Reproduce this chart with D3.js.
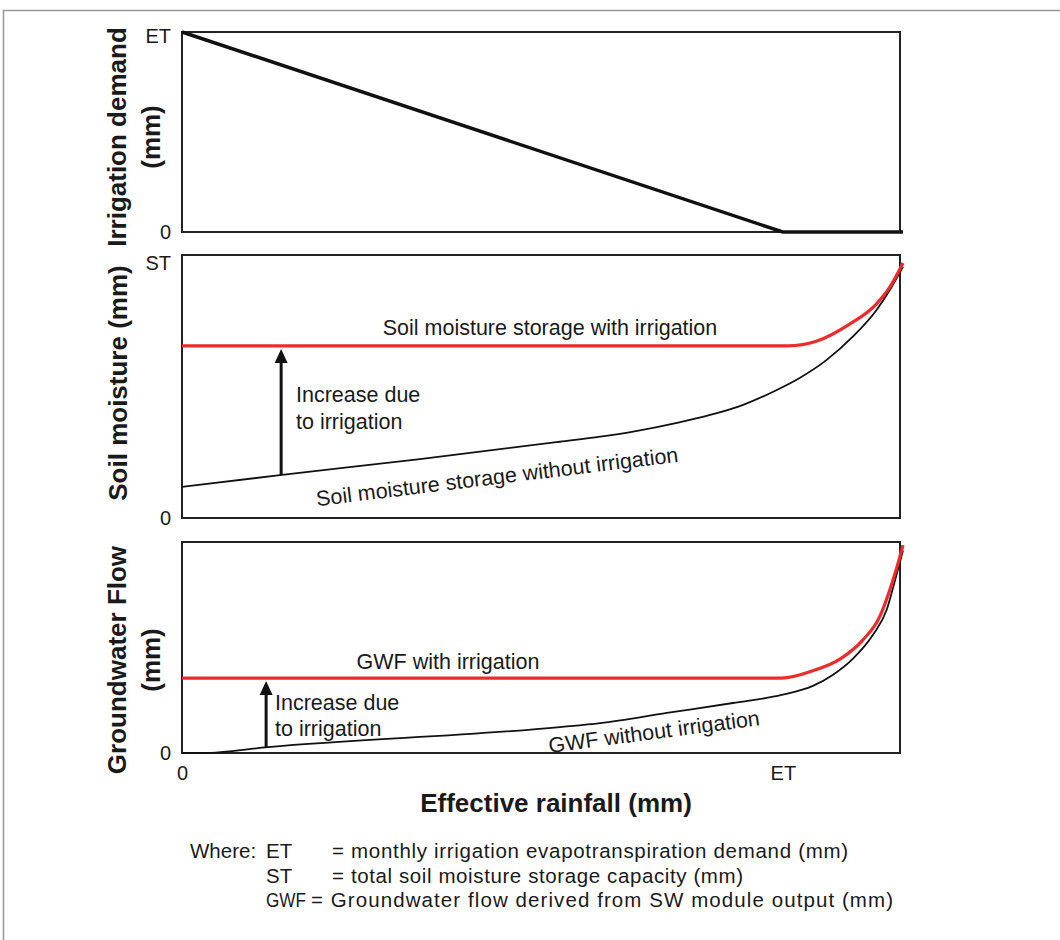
<!DOCTYPE html>
<html>
<head>
<meta charset="utf-8">
<script src="https://cdn.jsdelivr.net/npm/d3@7/dist/d3.min.js"></script>
<style>
  body { margin: 0; background: #fff; }
  text { font-family: Arial, "Liberation Sans", sans-serif; fill: #1a1a1a; }
</style>
</head>
<body>
<div id="chart-area"></div>
<script>
// effective rainfall as a fraction of ET (ET = 1)
var demandX = [0, 1, 1.2];
var demandY = [1, 0, 0];

// soil moisture as a fraction of ST
var smDryX = [0, 0.163, 0.396, 0.629, 0.696, 0.751, 0.824, 0.879, 0.933, 0.990, 1.028, 1.073, 1.116, 1.156, 1.178, 1.2];
var smDryY = [0.122, 0.168, 0.231, 0.299, 0.319, 0.339, 0.373, 0.404, 0.443, 0.502, 0.549, 0.620, 0.710, 0.816, 0.894, 0.985];
var smIrrX = [0, 1.008, 1.057, 1.111, 1.156, 1.178, 1.2];
var smIrrY = [0.675, 0.675, 0.694, 0.760, 0.840, 0.905, 1.0];

// groundwater flow (relative)
var gwfDryX = [0, 0.035, 0.143, 0.629, 0.696, 0.807, 0.917, 0.998, 1.050, 1.083, 1.116, 1.150, 1.173, 1.186, 1.2];
var gwfDryY = [0, 0, 0.028, 0.123, 0.142, 0.190, 0.237, 0.275, 0.318, 0.370, 0.445, 0.560, 0.680, 0.810, 0.960];
var gwfIrrX = [0, 0.998, 1.050, 1.095, 1.133, 1.161, 1.178, 1.190, 1.2];
var gwfIrrY = [0.355, 0.355, 0.390, 0.445, 0.535, 0.645, 0.773, 0.882, 0.985];

var xTickLabels = ["0", "ET"];
var demandTickLabels = ["0", "ET"];
var smTickLabels = ["0", "ST"];
var gwfTickLabels = ["0"];

var arrowAt = 0.165;      // where the "increase" arrows stand
var arrowAtGwf = 0.14;

var legendKeys = ["ET", "ST", "GWF"];
var legendTexts = [
  "= monthly irrigation evapotranspiration demand (mm)",
  "= total soil moisture storage capacity (mm)",
  "= Groundwater flow derived from SW module output (mm)"
];

var width = 1060, height = 940;

var svg = d3.select("#chart-area").append("svg")
  .attr("width", width)
  .attr("height", height);

svg.append("rect")
  .attr("x", 3.5).attr("y", 10.5)
  .attr("width", 1100).attr("height", 1000)
  .attr("fill", "none")
  .attr("stroke", "#999")
  .attr("stroke-width", 1.5);

var x = d3.scaleLinear().domain([0, 1.195]).range([182, 900]);

var panels = [
  { top: 32, bottom: 232, y: d3.scaleLinear().domain([0, 1]).range([232, 32]), ticks: demandTickLabels },
  { top: 255, bottom: 518, y: d3.scaleLinear().domain([0, 1]).range([518, 263]), ticks: smTickLabels },
  { top: 542, bottom: 753, y: d3.scaleLinear().domain([0, 1]).range([753, 542]), ticks: gwfTickLabels }
];

function zip(xs, ys) {
  return xs.map(function(d, i) { return { x: d, y: ys[i] }; });
}

function valueAt(xs, ys, v) {
  return d3.scaleLinear().domain(xs).range(ys)(v);
}

panels.forEach(function(p, k) {
  svg.append("rect")
    .attr("x", x(0)).attr("y", p.top)
    .attr("width", x(1.195) - x(0))
    .attr("height", p.bottom - p.top)
    .attr("fill", "none")
    .attr("stroke", "#222")
    .attr("stroke-width", 2);

  var ax = svg.append("g")
    .attr("transform", "translate(" + x(0) + ",0)")
    .call(d3.axisLeft(p.y)
      .tickValues(p.ticks.map(function(d, i) { return i; }))
      .tickFormat(function(d) { return p.ticks[d]; })
      .tickSize(0)
      .tickPadding(11));
  ax.select(".domain").remove();
  ax.selectAll("text").style("font-size", "20px").attr("fill", "#1a1a1a");
  // the top label of the first panel sits a little below the corner
  if (k === 0) ax.selectAll(".tick").filter(function(d) { return d === 1; })
    .select("text").attr("dy", "0.5em");
});

var xAx = svg.append("g")
  .attr("transform", "translate(0," + panels[2].bottom + ")")
  .call(d3.axisBottom(x)
    .tickValues([0, 1])
    .tickFormat(function(d) { return xTickLabels[d]; })
    .tickSize(0)
    .tickPadding(13));
xAx.select(".domain").remove();
xAx.selectAll("text").style("font-size", "20px").attr("fill", "#1a1a1a");

function drawLine(data, yScale, color, w) {
  var line = d3.line()
    .x(function(d) { return x(d.x); })
    .y(function(d) { return yScale(d.y); })
    .curve(d3.curveMonotoneX);
  svg.append("path")
    .attr("d", line(data))
    .attr("fill", "none")
    .attr("stroke", color)
    .attr("stroke-width", w)
    .attr("stroke-linejoin", "round");
}

// irrigation demand
svg.append("path")
  .attr("d", d3.line()
    .x(function(d) { return x(d.x); })
    .y(function(d) { return panels[0].y(d.y); })(zip(demandX, demandY)))
  .attr("fill", "none")
  .attr("stroke", "#111")
  .attr("stroke-width", 3.5);

drawLine(zip(smDryX, smDryY), panels[1].y, "#111", 1.8);
drawLine(zip(smIrrX, smIrrY), panels[1].y, "#ee2b2b", 3.2);
drawLine(zip(gwfDryX, gwfDryY), panels[2].y, "#111", 1.8);
drawLine(zip(gwfIrrX, gwfIrrY), panels[2].y, "#ee2b2b", 3.2);

function arrow(xv, y0, y1) {
  var ax0 = x(xv);
  svg.append("line")
    .attr("x1", ax0).attr("x2", ax0)
    .attr("y1", y0).attr("y2", y1 + 12)
    .attr("stroke", "#111")
    .attr("stroke-width", 3);
  svg.append("path")
    .attr("d", "M" + ax0 + "," + (y1 + 1) + "L" + (ax0 - 6.5) + "," + (y1 + 15) + "L" + (ax0 + 6.5) + "," + (y1 + 15) + "Z")
    .attr("fill", "#111");
}

arrow(arrowAt, panels[1].y(valueAt(smDryX, smDryY, arrowAt)), panels[1].y(smIrrY[0]) + 2);
arrow(arrowAtGwf, panels[2].y(valueAt(gwfDryX, gwfDryY, arrowAtGwf)), panels[2].y(gwfIrrY[0]) + 2);

// annotations
function note(t, px, py, anchor, rot) {
  var el = svg.append("text")
    .attr("x", px).attr("y", py)
    .attr("text-anchor", anchor || "start")
    .style("font-size", "21.5px")
    .text(t);
  if (rot) el.attr("transform", "rotate(" + rot + "," + px + "," + py + ")");
  return el;
}

note("Soil moisture storage with irrigation", 550, 335, "middle");
note("Increase due", 296, 402);
note("to irrigation", 296, 429);
note("Soil moisture storage without irrigation", 498, 484, "middle", -7);

note("GWF with irrigation", 448, 669, "middle");
note("Increase due", 275, 710);
note("to irrigation", 275, 736);
note("GWF without irrigation", 655, 739, "middle", -7.5);

// axis titles
function title(lines, cx, cy, rotate) {
  lines.forEach(function(t, i) {
    var tx = rotate ? cx + i * 34 : cx;
    svg.append("text")
      .attr("x", tx).attr("y", cy)
      .attr("text-anchor", "middle")
      .attr("dominant-baseline", "central")
      .attr("transform", rotate ? "rotate(-90," + tx + "," + cy + ")" : null)
      .style("font-size", "26px")
      .style("font-weight", "bold")
      .text(t);
  });
}

title(["Irrigation demand", "(mm)"], 117, 137, true);
title(["Soil moisture (mm)"], 118, 383, true);
title(["Groundwater Flow", "(mm)"], 117, 660, true);
title(["Effective rainfall (mm)"], 556, 803, false);

// legend
var lineWidths = [516, 411, 582];
var lg = svg.append("g").style("font-size", "20.5px");
lg.append("text").attr("x", 190).attr("y", 858).text("Where:");
legendKeys.forEach(function(k, i) {
  var ly = 858 + i * 24.5;
  lg.append("text").attr("x", 266).attr("y", ly)
    .attr("textLength", k === "GWF" ? 40 : null)
    .attr("lengthAdjust", "spacingAndGlyphs")
    .text(k);
  lg.append("text").attr("x", k === "GWF" ? 311 : 332).attr("y", ly)
    .attr("textLength", lineWidths[i])
    .attr("lengthAdjust", "spacing")
    .text(legendTexts[i]);
});
</script>
</body>
</html>
